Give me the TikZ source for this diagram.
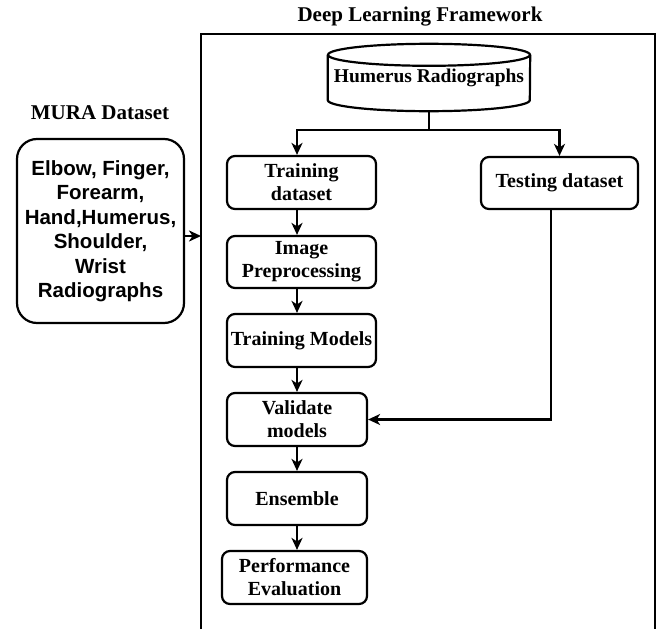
\documentclass[tikz,border=0pt]{standalone}
\usepackage{fontspec}
\setmainfont{Liberation Serif}
\newfontfamily\arialfont{Liberation Sans}
\usetikzlibrary{arrows.meta}
\tikzset{
  stepbox/.style={draw,rounded corners=8pt,line width=2.2pt,align=center,
    font=\fontsize{20}{23}\selectfont\bfseries,inner sep=2pt},
  arr/.style={line width=2.2pt,-{Stealth[length=12pt,width=11pt,inset=3.5pt]}},
  heading/.style={font=\fontsize{21}{24}\selectfont\bfseries}
}

\begin{document}
\begin{tikzpicture}[x=1pt,y=-1pt]
    \useasboundingbox (0,0) rectangle (660,629);
    % framework frame, open at the bottom
    \draw[line width=2.2pt] (201,629) -- (201,34) -- (655,34) -- (655,629);
    \node (fw) [heading] at (420,17) {Deep Learning Framework};
    \node (md) [heading] at (100,113) {MURA Dataset};
    \node (mura) [stepbox,rounded corners=20pt,minimum width=167pt,minimum height=184pt,
      font=\arialfont\fontsize{20.5}{24.5}\selectfont\bfseries] at (100.5,231)
      {Elbow, Finger,\\Forearm,\\Hand,Humerus,\\Shoulder,\\Wrist\\Radiographs};
    % database drum
    \node (hr) [minimum width=202pt,minimum height=67pt,inner sep=0pt,
      font=\fontsize{19.5}{23}\selectfont\bfseries] at (429,77.5) {Humerus Radiographs};
    \draw[line width=2.2pt] ([yshift=-11pt]hr.north west) -- ([yshift=11pt]hr.south west)
      arc[start angle=180,end angle=360,x radius=101pt,y radius=11pt]
      -- ([yshift=-11pt]hr.north east);
    \draw[line width=2.2pt] ([yshift=-11pt]hr.north) ellipse [x radius=101pt,y radius=11pt];
    \node (trd) [stepbox,minimum width=149pt,minimum height=53pt] at (301.5,182.5) {Training\\dataset};
    \node (ted) [stepbox,minimum width=157pt,minimum height=52pt] at (559.5,183) {Testing dataset};
    \node (ipp) [stepbox,minimum width=149pt,minimum height=52pt] at (301.5,262) {Image\\Preprocessing};
    \node (tm) [stepbox,minimum width=149pt,minimum height=53pt,inner sep=0pt] at (301.5,340.5) {Training Models};
    \node (vm) [stepbox,minimum width=140pt,minimum height=53pt] at (297,419.5) {Validate\\models};
    \node (ens) [stepbox,minimum width=140pt,minimum height=53pt] at (297,498.5) {Ensemble};
    \node (pe) [stepbox,minimum width=145pt,minimum height=53pt] at (294.5,577.5) {Performance\\Evaluation};
    \coordinate (split) at (429,130);
    \coordinate (col) at (297,0);
    \coordinate (tcol) at (551,419.5);
    \coordinate (fl) at (201,236);
    \draw[line width=2.2pt] (hr.south) -- (split);
    \draw[arr] (split) -| (trd.north -| col);
    \draw[arr] (split) -| (ted.north);
    \draw[arr] (trd.south -| col) -- (ipp.north -| col);
    \draw[arr] (ipp.south -| col) -- (tm.north -| col);
    \draw[arr] (tm.south -| col) -- (vm.north);
    \draw[arr] (vm) -- (ens);
    \draw[arr] (ens.south) -- (pe.north -| col);
    \draw[arr] (ted.south -| tcol) -- (tcol) -- (vm.east);
    \draw[arr] (mura.east |- fl) -- (fl);
\end{tikzpicture}
\end{document}
